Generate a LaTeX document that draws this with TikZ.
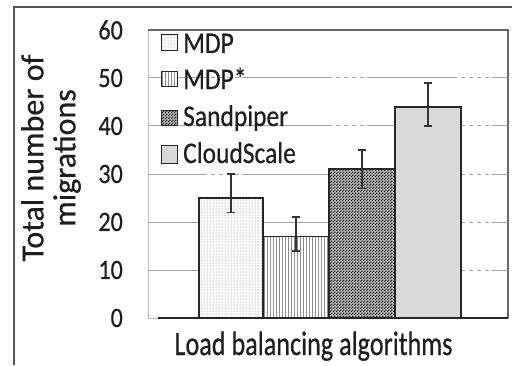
\documentclass[tikz,border=0pt]{standalone}
\usepackage{fontspec}
\setmainfont{Carlito}[FakeBold=0.6]
\usepackage{tikz}
\usetikzlibrary{patterns}
\definecolor{framegray}{RGB}{85,85,85}
\definecolor{gridgray}{RGB}{165,165,165}
\definecolor{cloudgray}{RGB}{217,217,217}
\definecolor{textgray}{RGB}{30,30,30}
\pgfdeclarepatternformonly{finechecker}{\pgfpointorigin}{\pgfqpoint{3pt}{3pt}}{\pgfqpoint{3pt}{3pt}}{
  \pgfpathrectangle{\pgfpointorigin}{\pgfqpoint{1.5pt}{1.5pt}}
  \pgfpathrectangle{\pgfqpoint{1.5pt}{1.5pt}}{\pgfqpoint{1.5pt}{1.5pt}}
  \pgfusepath{fill}}

\begin{document}
\begin{tikzpicture}[x=1pt,y=1pt,
  barline/.style={draw=black!85, line width=1.5pt},
  errbar/.style={draw=black!80, line width=1.5pt},
  ticklabel/.style={anchor=east, inner sep=0pt, xscale=0.86, text=textgray, font=\fontsize{28}{28}\selectfont},
  legendlabel/.style={anchor=base west, inner sep=0pt, xscale=0.85, text=textgray, font=\fontsize{30}{30}\selectfont}]
\useasboundingbox (0,0) rectangle (512,365);

% frame of the figure
\draw[framegray, line width=2pt] (14,0) -- (14,358) -- (512,358);

% plot area and grid
\draw[gray!55, line width=1pt] (148,47) rectangle (508,335);
\draw[gray!80!black, line width=1.2pt] (148,335) -- (508,335) -- (508,47);
\foreach \v in {10,20,...,50}
  \draw[gridgray, line width=1pt, dash pattern=on 90pt off 4pt on 4pt off 4pt on 4pt off 4pt on 4pt off 4pt on 4pt off 3pt, dash phase=31pt]
    (148,{47+4.8*\v}) -- (508,{47+4.8*\v});
\foreach \v in {0,10,...,60}
  \node[ticklabel] (tick\v) at (123,{47+4.8*\v}) {\v};

% bars
\fill[white] (199,47) rectangle (263,{47+4.8*25});
\fill[pattern=dots, pattern color=gray!80!black] (199,47) rectangle (263,{47+4.8*25});
\draw[barline] (199,47) rectangle (263,{47+4.8*25});

\fill[white] (263,47) rectangle (329,{47+4.8*17});
\fill[pattern=vertical lines, pattern color=gray!90] (263,47) rectangle (329,{47+4.8*17});
\draw[barline] (263,47) rectangle (329,{47+4.8*17});

\fill[gray!55] (329,47) rectangle (395,{47+4.8*31});
\fill[pattern=finechecker, pattern color=black!85] (329,47) rectangle (395,{47+4.8*31});
\draw[barline] (329,47) rectangle (395,{47+4.8*31});

\filldraw[barline, fill=cloudgray] (395,47) rectangle (461,{47+4.8*44});

% error bars
\foreach \x/\lo/\hi in {231/22/30, 296/14/21, 362/27/35, 428/40/49}{
  \draw[errbar] (\x,{47+4.8*\lo}) -- (\x,{47+4.8*\hi});
  \draw[errbar] (\x-4,{47+4.8*\lo}) -- (\x+4,{47+4.8*\lo});
  \draw[errbar] (\x-4,{47+4.8*\hi}) -- (\x+4,{47+4.8*\hi});
}

% x axis
\draw[black!85, line width=1.5pt] (158,47) -- (508,47);

% legend
\fill[white] (161,314) rectangle (177,330);
\fill[pattern=dots, pattern color=gray!80!black] (161,314) rectangle (177,330);
\draw[black!85, line width=1pt] (161,314) rectangle (177,330);
\node[legendlabel] (legMDP) at (183,312) {MDP};

\fill[white] (161,278) rectangle (177,293);
\fill[pattern=vertical lines, pattern color=gray!90] (161,278) rectangle (177,293);
\draw[black!85, line width=1pt] (161,278) rectangle (177,293);
\node[legendlabel] (legMDPs) at (183,276) {MDP*};

\fill[gray!55] (161,239) rectangle (177,254);
\fill[pattern=finechecker, pattern color=black!85] (161,239) rectangle (177,254);
\draw[black!85, line width=1pt] (161,239) rectangle (177,254);
\node[legendlabel] (legSand) at (183,239) {Sandpiper};

\filldraw[black!85, line width=1pt, fill=cloudgray] (161,202) rectangle (177,220);
\node[legendlabel] (legCloud) at (183,202) {CloudScale};

% axis titles
\node[rotate=90, align=center, text=textgray, font=\fontsize{32}{32}\selectfont] (ytitle) at (51,207) {Total number of\\migrations};
\node[anchor=base, xscale=0.77, text=textgray, font=\fontsize{34}{34}\selectfont] (xtitle) at (313.5,10) {Load balancing algorithms};
\end{tikzpicture}
\end{document}
